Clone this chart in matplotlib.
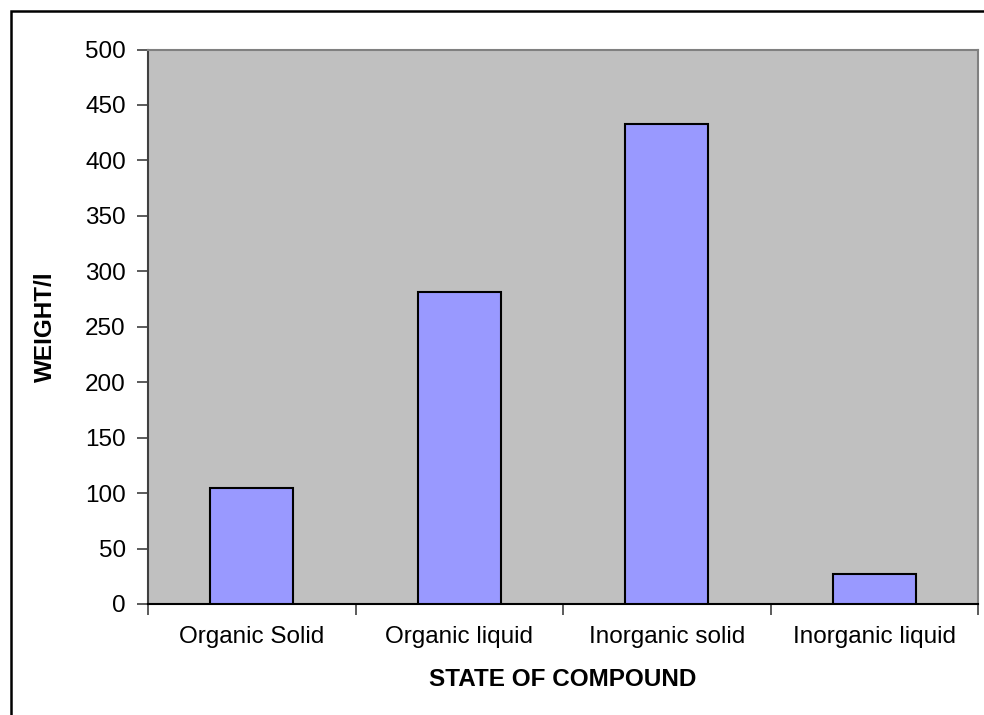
import matplotlib
matplotlib.use("Agg")
import matplotlib.pyplot as plt
from matplotlib.patches import Rectangle

# Data
categories = ["Organic Solid", "Organic liquid", "Inorganic solid", "Inorganic liquid"]
weights = [105, 281, 433, 27]
y_ticks = [0, 50, 100, 150, 200, 250, 300, 350, 400, 450, 500]

plt.rcParams["font.family"] = ["Liberation Sans", "DejaVu Sans"]

fig = plt.figure(figsize=(9.84, 7.15), dpi=100)
ax = fig.add_axes([148 / 984, 1 - 604 / 715, (978 - 148) / 984, (604 - 49.5) / 715])

x = list(range(len(categories)))
ax.bar(x, weights, width=0.4, color="#9999FF", edgecolor="black", linewidth=1.5, zorder=3)

ax.set_facecolor("#C0C0C0")
ax.set_xlim(-0.5, len(categories) - 0.5)
ax.set_ylim(0, 500)
ax.set_yticks(y_ticks)

# category labels between boundary ticks
ax.set_xticks(x)
ax.set_xticklabels(categories, fontsize=17.5)
ax.tick_params(axis="x", which="major", length=0, pad=16)
ax.set_xticks([i - 0.5 for i in range(len(categories) + 1)], minor=True)
ax.tick_params(axis="x", which="minor", length=8, width=1.2, direction="out", color="#404040")
ax.tick_params(axis="y", labelsize=17.5, length=8, width=1.2, direction="out", pad=8, color="#404040")

for side in ["top", "right"]:
    ax.spines[side].set_color("#808080")
    ax.spines[side].set_linewidth(1.5)
ax.spines["left"].set_color("#404040")
ax.spines["left"].set_linewidth(1.5)
ax.spines["bottom"].set_color("black")
ax.spines["bottom"].set_linewidth(1.5)

ax.set_xlabel("STATE OF COMPOUND", fontsize=17.5, fontweight="bold", labelpad=14)
ax.set_ylabel("WEIGHT/l", fontsize=17.5, fontweight="bold", labelpad=20)

# outer chart border (runs off the right and bottom edges)
fig.patches.append(Rectangle((11 / 984, -0.1), 1.2, 1.1 - 11 / 715, transform=fig.transFigure,
                             fill=False, edgecolor="black", linewidth=1.8))

fig.savefig("out.png", dpi=100)
